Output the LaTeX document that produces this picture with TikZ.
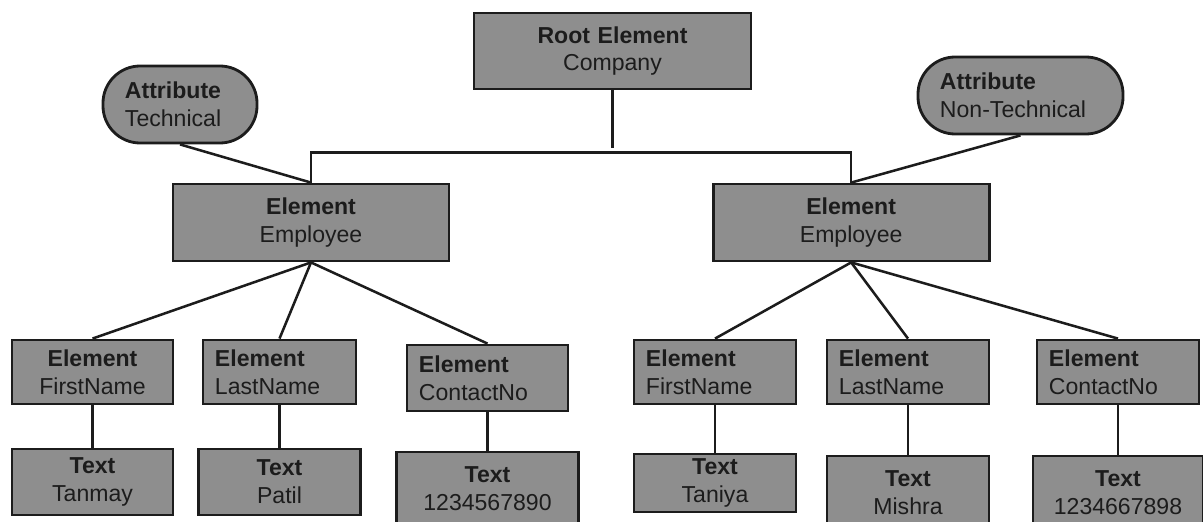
\documentclass[tikz,border=0pt]{standalone}
\usepackage{fontspec}
\setmainfont{Liberation Sans}
\usetikzlibrary{positioning}
\definecolor{boxgray}{RGB}{142,142,142}
\definecolor{inkgray}{RGB}{28,28,28}

\begin{document}
\begin{tikzpicture}[x=0.025cm,y=-0.025cm,on grid,
    elem/.style={draw=inkgray,fill=boxgray,line width=2pt,inner xsep=0.3cm,inner ysep=0pt,
                 font=\fontsize{16.4}{19.8}\selectfont,text=inkgray,align=center},
    lelem/.style={elem,align=left},
    attr/.style={elem,align=left,rounded corners=0.93cm,inner xsep=0.55cm,minimum height=1.925cm},
    conn/.style={draw=inkgray,line width=1.8pt},
    every edge/.style={conn}]
   \useasboundingbox (0,0) rectangle (1203,521);

   % root and attributes
   \node [elem,text width=6.325cm,minimum height=1.9cm] (root) at (612.5,51) {\textbf{Root Element}\\Company};
   \node [attr,text width=2.75cm] (tech) at (180,104.5) {\textbf{Attribute}\\Technical};
   \node [attr,text width=4.025cm] (nontech) at (1020.5,95.5) {\textbf{Attribute}\\Non-Technical};

   % employees
   \node [elem,text width=6.3cm,minimum height=1.925cm] (emp1) at (311,222.5) {\textbf{Element}\\Employee};
   \node [elem,text width=6.3cm,minimum height=1.925cm] (emp2) [right=13.5cm of emp1] {\textbf{Element}\\Employee};

   % child elements
   \node [elem,text width=3.425cm,minimum height=1.6cm] (first1) at (92.5,372) {\textbf{Element}\\FirstName};
   \node [lelem,text width=3.225cm,minimum height=1.6cm] (last1) at (279.5,372) {\textbf{Element}\\LastName};
   \node [lelem,text width=3.425cm,minimum height=1.65cm] (contact1) at (487.5,378) {\textbf{Element}\\ContactNo};
   \node [lelem,text width=3.45cm,minimum height=1.6cm] (first2) at (715,372) {\textbf{Element}\\FirstName};
   \node [lelem,text width=3.45cm,minimum height=1.6cm] (last2) at (908,372) {\textbf{Element}\\LastName};
   \node [lelem,text width=3.45cm,minimum height=1.6cm] (contact2) at (1118,372) {\textbf{Element}\\ContactNo};

   % text values
   \node [elem,text width=3.425cm,minimum height=1.65cm] (val1) [below=2.75cm of first1] {\textbf{Text}\\Tanmay};
   \node [elem,text width=3.45cm,minimum height=1.65cm] (val2) [below=2.75cm of last1] {\textbf{Text}\\Patil};
   \node [elem,text width=3.95cm,minimum height=1.825cm] (val3) [below=2.7625cm of contact1] {\textbf{Text}\\1234567890};
   \node [elem,text width=3.45cm,minimum height=1.45cm] (val4) [below=2.775cm of first2] {\textbf{Text}\\Taniya};
   \node [elem,text width=3.45cm,minimum height=1.825cm] (val5) [below=3.0125cm of last2] {\textbf{Text}\\Mishra};
   \node [elem,text width=3.65cm,minimum height=1.825cm] (val6) [below=3.0125cm of contact2] {\textbf{Text}\\1234667898};

   \coordinate (rootend) at (612.5,148);
   \draw [conn] (root.south) -- (rootend);
   \draw [conn] (emp1.north) -- ++(0,-30) -| (emp2.north);
   \path (tech.south) edge (emp1.north)
         (nontech.south) edge (emp2.north);
   \path (emp1.south) edge (first1.north) edge (last1.north) edge (contact1.north)
         (emp2.south) edge (first2.north) edge (last2.north) edge (contact2.north);
   \path (first1) edge (val1)
         (last1) edge (val2)
         (contact1) edge (val3)
         (first2) edge (val4)
         (last2) edge (val5)
         (contact2) edge (val6);
\end{tikzpicture}
\end{document}
